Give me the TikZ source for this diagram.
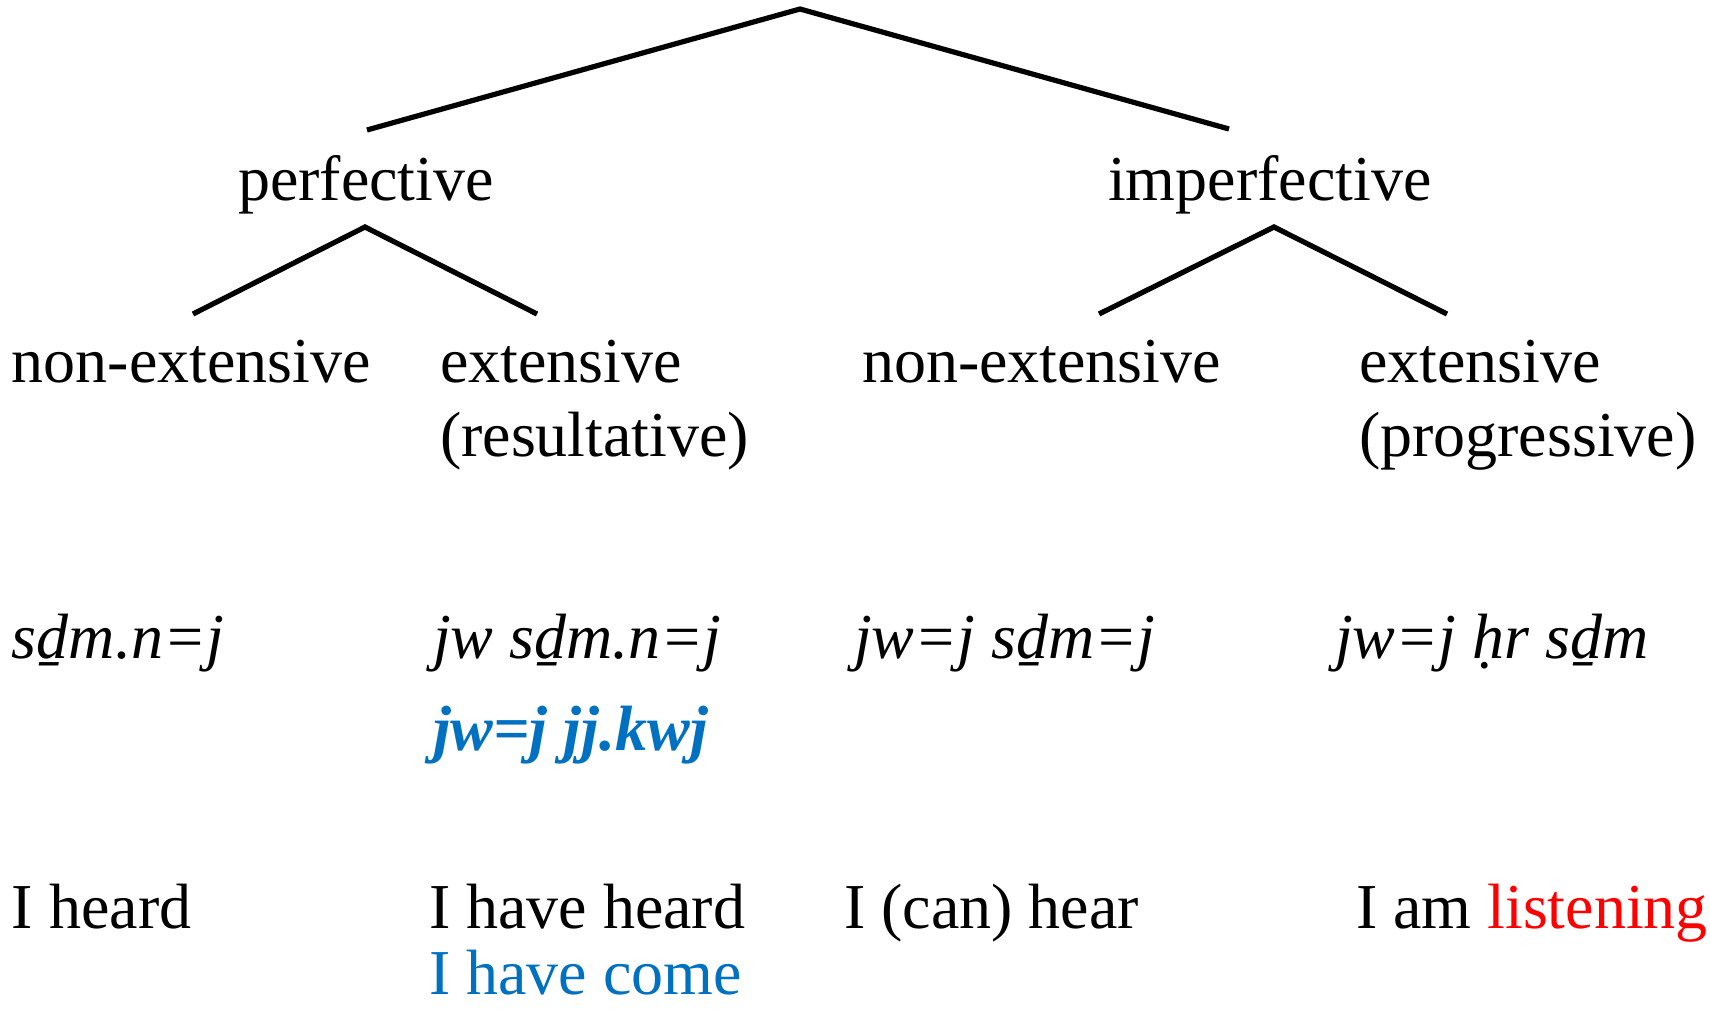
\documentclass[tikz,border=0pt]{standalone}
\usepackage{fontspec}
\setmainfont{Liberation Serif}
\definecolor{egblue}{RGB}{0,112,192}
\definecolor{egred}{RGB}{255,0,0}
\begin{document}
\begin{tikzpicture}[x=1pt,y=-1pt,
  lbl/.style={anchor=base west,inner sep=0pt,outer sep=0pt,font=\fontsize{64}{76}\selectfont},
  eg/.style={lbl,font=\fontsize{64}{76}\selectfont\itshape},
  branch/.style={line width=5.2pt,line cap=butt}]
\useasboundingbox (0,0) rectangle (1710,1009);
% tree coordinates
\coordinate (root) at (800,9);
\coordinate (pl) at (367,130);
\coordinate (ir) at (1229,129);
\coordinate (papex) at (365,227);
\coordinate (pa) at (193,314);
\coordinate (pb) at (537,314);
\coordinate (iapex) at (1274,227);
\coordinate (ia) at (1099,314);
\coordinate (ib) at (1447,314);
\draw[branch] (pl) -- (root) -- (ir);
\draw[branch] (pa) -- (papex) -- (pb);
\draw[branch] (ia) -- (iapex) -- (ib);
% labels
\node[lbl] (perf) at (238,200) {perfective};
\node[lbl] (imperf) at (1108,200) {imperfective};
\node[lbl] (pne) at (12,382) {non-extensive};
\node[lbl] (pe1) at (440,382) {extensive};
\node[lbl] (pe2) at (440,456) {(resultative)};
\node[lbl] (ine) at (862,382) {non-extensive};
\node[lbl] (ie1) at (1359,382) {extensive};
\node[lbl] (ie2) at (1359,456) {(progressive)};
% Egyptian forms
\node[eg] (f1) at (12,658) {sḏm.n=j};
\node[eg] (f2) at (433,658) {jw sḏm.n=j};
\node[eg,text=egblue,font=\fontsize{64}{76}\selectfont\bfseries\itshape] (f2b) at (433,750) {jw=j jj.kwj};
\node[eg] (f3) at (854,658) {jw=j sḏm=j};
\node[eg] (f4) at (1335,658) {jw=j ḥr sḏm};
% translations
\node[lbl] (t1) at (12,928) {I heard};
\node[lbl] (t2) at (429,928) {I have heard};
\node[lbl,text=egblue,text depth=0pt] (t2b) at (429,994) {I have come};
\node[lbl] (t3) at (844,928) {I (can) hear};
\node[lbl] (t4) at (1356,928) {I am \textcolor{egred}{listening}};
\end{tikzpicture}
\end{document}
